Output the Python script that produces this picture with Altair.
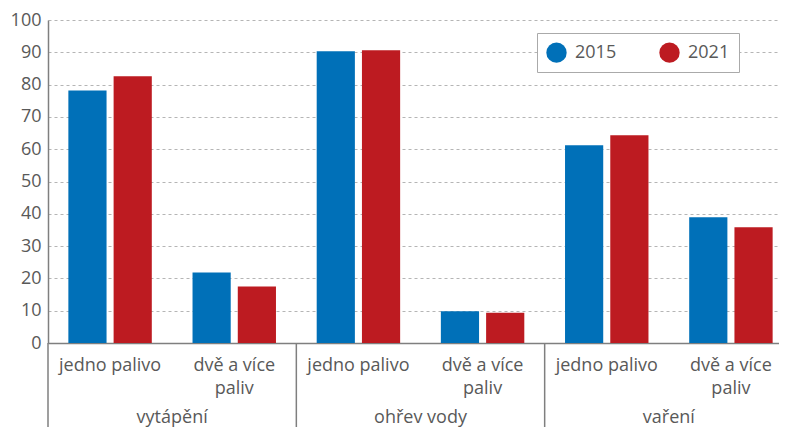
import altair as alt
import pandas as pd

groups = ["vytápění", "ohřev vody", "vaření"]
subs = ["jedno palivo", "dvě a více paliv"]
sub_labels = ["jedno palivo", "dvě a více\npaliv"]
years = ["2015", "2021"]
values_2015 = [78.2, 21.8, 90.3, 9.8, 61.2, 38.9]
values_2021 = [82.6, 17.5, 90.6, 9.4, 64.3, 35.8]
y_ticks = [0, 10, 20, 30, 40, 50, 60, 70, 80, 90, 100]
colors = ["#0070b8", "#bd1b21"]

W, H = 731, 323
RANGE_W = 745
FONT = "Open Sans"
TXT = "#595959"

keys, rows, lab_rows = [], [], []
i = 0
for g in groups:
    for s, sl in zip(subs, sub_labels):
        k = f"{g}|{s}"
        keys.append(k)
        lab_rows.append({"key": k, "label": sl})
        rows.append({"key": k, "year": years[0], "value": values_2015[i]})
        rows.append({"key": k, "year": years[1], "value": values_2021[i]})
        i += 1

df = pd.DataFrame(rows)
df_lab = pd.DataFrame(lab_rows)
df_grp = pd.DataFrame({"group": groups})

xs_sub = alt.Scale(domain=keys, paddingInner=0, paddingOuter=0, range=[0, RANGE_W])
xs_grp = alt.Scale(domain=groups, paddingInner=0, paddingOuter=0, range=[0, RANGE_W])

bars = alt.Chart(df).mark_bar().encode(
    x=alt.X("key:N", sort=keys, scale=xs_sub,
            axis=alt.Axis(labels=False, ticks=False, title=None, domainColor="#7f7f7f",
                          domainWidth=1.5, grid=False)),
    xOffset=alt.XOffset("year:N", scale=alt.Scale(domain=years, paddingInner=0.156, paddingOuter=0.45)),
    y=alt.Y("value:Q", scale=alt.Scale(domain=[0, 100], nice=False),
            axis=alt.Axis(values=y_ticks, title=None, ticks=False, tickSize=0, labelPadding=7,
                          labelFont=FONT, labelFontSize=18, labelColor=TXT,
                          domainColor="#7f7f7f", domainWidth=1.5,
                          grid=True, gridColor="#b5b5b5", gridDash=[3, 3], gridWidth=1.2)),
    color=alt.Color("year:N", scale=alt.Scale(domain=years, range=colors),
                    legend=alt.Legend(title=None, orient="none", legendX=489, legendY=13,
                                      direction="horizontal", symbolType="circle",
                                      symbolSize=415, symbolStrokeWidth=0,
                                      labelFont=FONT, labelFontSize=18, labelColor=TXT,
                                      labelOffset=8, columnPadding=42,
                                      padding=9, strokeColor="#aaaaaa", fillColor="white")),
)

sub_text = alt.Chart(df_lab).mark_text(
    font=FONT, fontSize=18, color=TXT, baseline="top", lineBreak="\n", lineHeight=23
).encode(
    x=alt.X("key:N", sort=keys, scale=xs_sub, axis=None),
    y=alt.value(H + 14),
    text="label:N",
)

grp_text = alt.Chart(df_grp).mark_text(
    font=FONT, fontSize=18, color=TXT, baseline="top"
).encode(
    x=alt.X("group:N", sort=groups, scale=xs_grp, axis=None),
    y=alt.value(H + 66),
    text="group:N",
)

seps = alt.Chart(df_grp).mark_rule(color="#7f7f7f", strokeWidth=1.5).encode(
    x=alt.X("group:N", sort=groups, scale=xs_grp, axis=None, bandPosition=0),
    y=alt.value(H),
    y2=alt.value(H + 110),
)

chart = alt.layer(bars, seps, sub_text, grp_text).resolve_scale(x="independent").properties(
    width=W, height=H,
    autosize=alt.AutoSizeParams(type="none"),
    padding={"left": 40, "top": 12, "right": 0, "bottom": 84},
).configure_view(stroke=None)

chart.save("out.html", embed_options={"renderer": "svg", "actions": False})
